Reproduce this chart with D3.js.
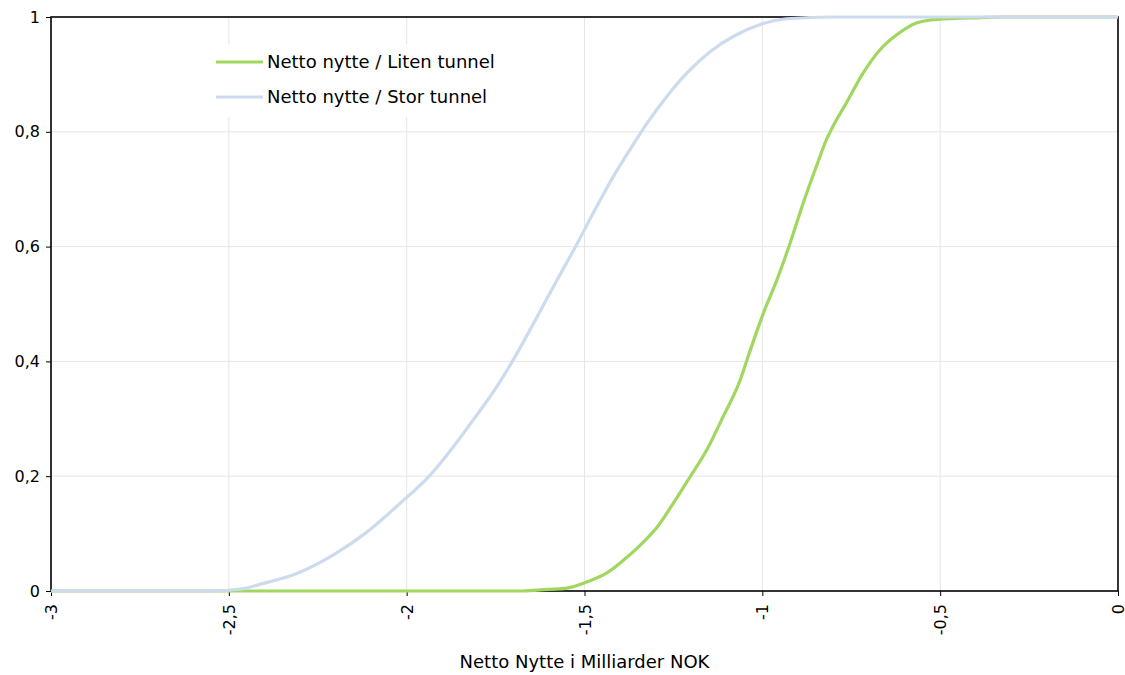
<!doctype html>
<html lang="no">
<head>
<meta charset="UTF-8">
<title>Netto nytte</title>
<style type="text/css">
body {
  margin: 0;
  padding: 0;
  background: #fff;
  font-family: 'DejaVu Sans', Verdana, sans-serif;
}
</style>
<script src="https://cdn.jsdelivr.net/npm/d3@7/dist/d3.min.js"></script>
</head>
<body>
<div id="chart"></div>
<script type="text/javascript">

// x ticks and y ticks
var xTicks = [-3, -2.5, -2, -1.5, -1, -0.5, 0];
var yTicks = [0, 0.2, 0.4, 0.6, 0.8, 1];

// Netto nytte / Liten tunnel (cumulative share)
var litenX = [-3, -1.68, -1.624, -1.549, -1.492, -1.436, -1.39, -1.343, -1.295, -1.25, -1.203, -1.156, -1.11, -1.062, -1.043, -0.997, -0.959, -0.922, -0.885, -0.848, -0.82, -0.801, -0.764, -0.716, -0.669, -0.622, -0.565, -0.509, -0.387, -0.33, 0];
var litenY = [0, 0, 0.002, 0.005, 0.016, 0.032, 0.054, 0.08, 0.112, 0.153, 0.199, 0.246, 0.304, 0.368, 0.403, 0.484, 0.542, 0.606, 0.676, 0.74, 0.786, 0.81, 0.85, 0.903, 0.943, 0.969, 0.99, 0.996, 0.999, 1, 1];

// Netto nytte / Stor tunnel
var storX = [-3, -2.552, -2.466, -2.411, -2.307, -2.206, -2.111, -2.018, -1.934, -1.869, -1.793, -1.765, -1.7, -1.633, -1.577, -1.52, -1.475, -1.419, -1.372, -1.324, -1.268, -1.211, -1.146, -1.082, -1.006, -0.931, -0.801, 0];
var storY = [0, 0, 0.0035, 0.012, 0.031, 0.063, 0.103, 0.153, 0.202, 0.251, 0.315, 0.339, 0.403, 0.478, 0.542, 0.606, 0.659, 0.722, 0.769, 0.815, 0.862, 0.903, 0.94, 0.966, 0.987, 0.997, 1, 1];

var seriesNames = ['Netto nytte / Liten tunnel', 'Netto nytte / Stor tunnel'];
var seriesColors = ['#a0d75e', '#cddbee'];
var xTitle = 'Netto Nytte i Milliarder NOK';

function pairs(xs, ys) {
  return xs.map(function(x, i) { return [x, ys[i]]; });
}

function fmt(v) {
  return String(v).replace('.', ',');
}

var W = 1125, H = 675;
var margin = {top: 17, right: 7, bottom: 84, left: 51};
var font = "'DejaVu Sans', Verdana, sans-serif";

var svg = d3.select('#chart').append('svg')
  .attr('width', W)
  .attr('height', H);

var x = d3.scaleLinear().domain([-3, 0]).range([margin.left, W - margin.right]);
var y = d3.scaleLinear().domain([0, 1]).range([H - margin.bottom, margin.top]);

// grid
svg.append('g').selectAll('line.vgrid').data(xTicks.slice(1, -1)).enter()
  .append('line')
  .attr('x1', function(d) { return x(d); })
  .attr('x2', function(d) { return x(d); })
  .attr('y1', y(0))
  .attr('y2', y(1))
  .attr('stroke', '#e6e6e6')
  .attr('stroke-width', 1);

svg.append('g').selectAll('line.hgrid').data(yTicks.slice(1, -1)).enter()
  .append('line')
  .attr('x1', x(-3))
  .attr('x2', x(0))
  .attr('y1', function(d) { return y(d); })
  .attr('y2', function(d) { return y(d); })
  .attr('stroke', '#e6e6e6')
  .attr('stroke-width', 1);

// legend box hides the grid under it
svg.append('rect')
  .attr('x', 205)
  .attr('y', 44)
  .attr('width', 305)
  .attr('height', 73)
  .attr('fill', '#fff');

// frame
svg.append('rect')
  .attr('x', x(-3))
  .attr('y', y(1))
  .attr('width', x(0) - x(-3))
  .attr('height', y(0) - y(1))
  .attr('fill', 'none')
  .attr('stroke', '#000')
  .attr('stroke-width', 1.6);

// axes
var xAxis = svg.append('g')
  .attr('transform', 'translate(0,' + y(0) + ')')
  .call(d3.axisBottom(x).tickValues(xTicks).tickSize(5).tickFormat(fmt));
xAxis.select('.domain').remove();
xAxis.selectAll('line').attr('stroke', '#000');
xAxis.selectAll('text')
  .attr('transform', 'rotate(-90)')
  .attr('x', -13)
  .attr('y', 0)
  .attr('dy', '0.35em')
  .attr('text-anchor', 'end')
  .attr('fill', '#000')
  .style('font-size', '16px')
  .style('font-family', font);

var yAxis = svg.append('g')
  .attr('transform', 'translate(' + x(-3) + ',0)')
  .call(d3.axisLeft(y).tickValues(yTicks).tickSize(5).tickFormat(fmt));
yAxis.select('.domain').remove();
yAxis.selectAll('line').attr('stroke', '#000');
yAxis.selectAll('text')
  .attr('x', -11)
  .attr('fill', '#000')
  .style('font-size', '16px')
  .style('font-family', font);

// series
var line = d3.line()
  .x(function(d) { return x(d[0]); })
  .y(function(d) { return y(d[1]); })
  .curve(d3.curveMonotoneX);

var data = [pairs(litenX, litenY), pairs(storX, storY)];

svg.append('g').selectAll('path.series').data(data).enter()
  .append('path')
  .attr('class', 'series')
  .attr('d', line)
  .attr('fill', 'none')
  .attr('stroke', function(d, i) { return seriesColors[i]; })
  .attr('stroke-width', 3.2)
  .attr('stroke-linejoin', 'round');

// legend
var legend = svg.append('g').selectAll('g.item').data(seriesNames).enter()
  .append('g')
  .attr('transform', function(d, i) { return 'translate(216,' + (62 + i * 35) + ')'; });

legend.append('line')
  .attr('x1', 0)
  .attr('x2', 47)
  .attr('stroke', function(d, i) { return seriesColors[i]; })
  .attr('stroke-width', 3.2);

legend.append('text')
  .attr('x', 51)
  .attr('dy', '0.36em')
  .style('font-size', '18px')
  .style('font-family', font)
  .text(function(d) { return d; });

// x title
svg.append('text')
  .attr('x', (x(-3) + x(0)) / 2)
  .attr('y', 668)
  .attr('text-anchor', 'middle')
  .style('font-size', '18px')
  .style('font-family', font)
  .text(xTitle);

</script>
</body>
</html>
